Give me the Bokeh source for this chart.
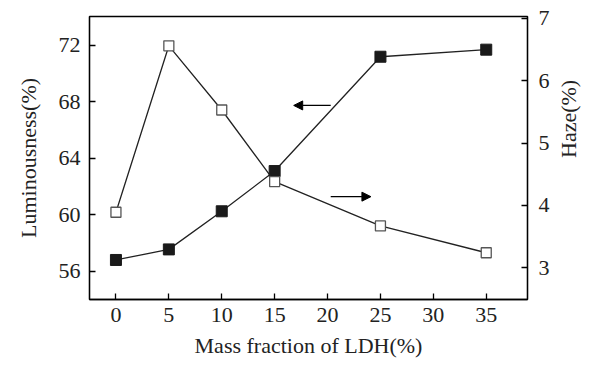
from bokeh.plotting import figure
from bokeh.models import Range1d, LinearAxis, FixedTicker, Arrow, NormalHead
from bokeh.embed import file_html
from bokeh.resources import INLINE
import math

mass = [0, 5, 10, 15, 25, 35]
luminousness = [56.8, 57.55, 60.25, 63.1, 71.2, 71.7]
haze = [3.89, 6.56, 5.53, 4.38, 3.67, 3.24]
x_ticks = [0, 5, 10, 15, 20, 25, 30, 35]
left_ticks = [56, 60, 64, 68, 72]
right_ticks = [3, 4, 5, 6, 7]

FONT = "Liberation Serif"
FS = "22px"

p = figure(frame_width=438, frame_height=283, output_backend="svg", toolbar_location=None,
           x_range=Range1d(-2.5, 38.9), y_range=Range1d(54.0, 74.05),
           min_border_left=89, min_border_right=64, min_border_top=16, min_border_bottom=70)
p.extra_y_ranges = {"haze": Range1d(2.49, 7.03)}
p.xgrid.visible = False
p.ygrid.visible = False
p.outline_line_color = "black"
p.outline_line_width = 1.3
p.background_fill_color = "white"
p.border_fill_color = "white"

raxis = LinearAxis(y_range_name="haze")
p.add_layout(raxis, "right")

for ax, ticks in ((p.xaxis[0], x_ticks), (p.yaxis[0], left_ticks), (raxis, right_ticks)):
    ax.ticker = FixedTicker(ticks=ticks)
    ax.major_tick_in = 6
    ax.major_tick_out = 0
    ax.minor_tick_in = 0
    ax.minor_tick_out = 0
    ax.axis_line_color = "black"
    ax.axis_line_width = 1.3
    ax.major_tick_line_color = "black"
    ax.major_tick_line_width = 1.3
    ax.major_label_text_font = FONT
    ax.major_label_text_font_size = FS
    ax.major_label_text_color = "#222222"
    ax.axis_label_text_font = FONT
    ax.axis_label_text_font_size = FS
    ax.axis_label_text_font_style = "normal"
    ax.axis_label_text_color = "#222222"

p.xaxis.major_label_standoff = 8
p.yaxis[0].major_label_standoff = 9
raxis.major_label_standoff = 11

p.xaxis.axis_label = "Mass fraction of LDH(%)"
p.xaxis.axis_label_standoff = 8
p.yaxis[0].axis_label = "Luminousness(%)"
p.yaxis[0].axis_label_standoff = 15

raxis.axis_label = "Haze(%)"
raxis.axis_label_standoff = 16
raxis.axis_label_orientation = math.pi / 2

p.line(mass, luminousness, line_color="#222222", line_width=1.3)
p.scatter(mass, luminousness, marker="square", size=11, fill_color="#1a1a1a", line_color="#1a1a1a")

p.line(mass, haze, line_color="#222222", line_width=1.3, y_range_name="haze")
p.scatter(mass, haze, marker="square", size=10, fill_color="white", line_color="#555555",
          line_width=1.3, y_range_name="haze")

p.add_layout(Arrow(end=NormalHead(size=9, fill_color="black", line_color="black"),
                   x_start=20.3, y_start=67.75, x_end=16.8, y_end=67.75,
                   line_color="black", line_width=1.3))
p.add_layout(Arrow(end=NormalHead(size=9, fill_color="black", line_color="black"),
                   x_start=20.3, y_start=4.14, x_end=24.1, y_end=4.14,
                   line_color="black", line_width=1.3, y_range_name="haze"))

open("out.html", "w").write(file_html(p, INLINE))
